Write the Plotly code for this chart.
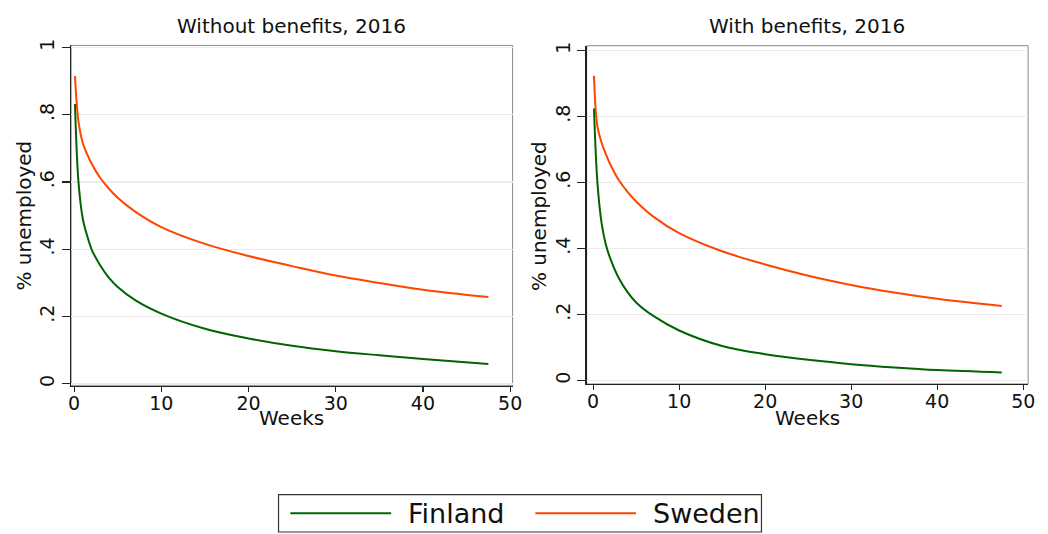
import plotly.graph_objects as go

# ---- data ----
weeks = [0.1, 0.5, 1, 1.5, 2, 3, 4, 5, 7, 10, 15, 20, 25, 30, 35, 40, 47.5]

fin_without = [0.832, 0.600, 0.490, 0.440, 0.400, 0.352, 0.315, 0.288, 0.249, 0.209, 0.164, 0.135, 0.113, 0.097, 0.085, 0.074, 0.059]
swe_without = [0.915, 0.780, 0.715, 0.682, 0.655, 0.612, 0.580, 0.553, 0.512, 0.466, 0.416, 0.380, 0.350, 0.322, 0.300, 0.280, 0.258]

fin_with = [0.825, 0.600, 0.475, 0.410, 0.370, 0.310, 0.268, 0.237, 0.196, 0.152, 0.105, 0.080, 0.063, 0.050, 0.040, 0.032, 0.025]
swe_with = [0.924, 0.770, 0.720, 0.685, 0.655, 0.607, 0.572, 0.543, 0.497, 0.447, 0.392, 0.352, 0.318, 0.290, 0.267, 0.248, 0.226]

panel_titles = ["Without benefits, 2016", "With benefits, 2016"]
series_names = ["Finland", "Sweden"]
x_ticks = [0, 10, 20, 30, 40, 50]
y_ticks = [0, 0.2, 0.4, 0.6, 0.8, 1]
y_ticktext = ["0", ".2", ".4", ".6", ".8", "1"]

GREEN = "rgb(0,100,0)"
ORANGE = "rgb(255,69,0)"
W, H = 1048, 534
FONT = "DejaVu Sans"

fig = go.Figure()

def px_x(v):
    return v / W

def px_y(v):
    return 1 - v / H

# panel geometry (pixels)
panels = [
    dict(x0=69, x1=516, y0=39, y1=384.5, xr=[-0.34, 50.28], yr=[-0.0056, 1.006],
         fin=fin_without, swe=swe_without, xa="x", ya="y"),
    dict(x0=591, x1=1038, y0=39.3, y1=382.7, xr=[-0.75, 50.57], yr=[-0.0101, 1.0149],
         fin=fin_with, swe=swe_with, xa="x2", ya="y2"),
]

for i, p in enumerate(panels):
    fig.add_trace(go.Scatter(x=weeks, y=p["fin"], mode="lines", name=series_names[0],
                             line=dict(color=GREEN, width=2, shape="spline", smoothing=1.0),
                             xaxis=p["xa"], yaxis=p["ya"], showlegend=False))
    fig.add_trace(go.Scatter(x=weeks, y=p["swe"], mode="lines", name=series_names[1],
                             line=dict(color=ORANGE, width=2, shape="spline", smoothing=1.0),
                             xaxis=p["xa"], yaxis=p["ya"], showlegend=False))

axis_common_x = dict(tickvals=x_ticks, ticks="outside", ticklen=5, tickwidth=1.2, tickcolor="#222",
                     ticklabelstandoff=-5,
                     showgrid=False, zeroline=False, showline=True, linecolor="#222", linewidth=1.2,
                     tickfont=dict(family=FONT, size=19, color="#111"))
axis_common_y = dict(tickvals=y_ticks, ticktext=y_ticktext, ticks="outside", ticklen=8, tickwidth=1.2,
                     tickcolor="#222", tickangle=-90, showgrid=True, gridcolor="#ececec", gridwidth=1.5,
                     zeroline=False, showline=True, linecolor="#222", linewidth=1.2,
                     tickfont=dict(family=FONT, size=19, color="#111"))

p0, p1 = panels
fig.update_layout(
    width=W, height=H,
    margin=dict(l=0, r=0, t=0, b=0),
    paper_bgcolor="white", plot_bgcolor="white",
    font=dict(family=FONT, color="#111"),
    xaxis=dict(domain=[px_x(p0["x0"]), px_x(p0["x1"])], range=p0["xr"], anchor="y", **axis_common_x),
    yaxis=dict(domain=[px_y(p0["y1"]), px_y(p0["y0"])], range=p0["yr"], anchor="x", **axis_common_y),
    xaxis2=dict(domain=[px_x(p1["x0"]), px_x(p1["x1"])], range=p1["xr"], anchor="y2", **axis_common_x),
    yaxis2=dict(domain=[px_y(p1["y1"]), px_y(p1["y0"])], range=p1["yr"], anchor="x2", **axis_common_y),
    showlegend=False,
)

shapes = []
annotations = []
for i, p in enumerate(panels):
    # light plot-region frame (top / right)
    shapes.append(dict(type="rect", xref="paper", yref="paper",
                       x0=px_x(p["x0"]), x1=px_x(p["x1"]), y0=px_y(p["y1"]), y1=px_y(p["y0"]),
                       line=dict(color="#8a8a8a", width=1), layer="below"))
    cx = (p["x0"] + p["x1"]) / 2
    annotations.append(dict(text=panel_titles[i], x=px_x(cx), y=px_y(19), xref="paper", yref="paper",
                            showarrow=False, xanchor="center", yanchor="middle",
                            font=dict(family=FONT, size=20, color="#111")))
    annotations.append(dict(text="Weeks", x=px_x(cx), y=px_y(417), xref="paper", yref="paper",
                            showarrow=False, xanchor="center", yanchor="middle",
                            font=dict(family=FONT, size=20, color="#111")))
    annotations.append(dict(text="% unemployed", x=px_x(p["x0"] - 48), y=px_y(212), xref="paper", yref="paper",
                            showarrow=False, xanchor="center", yanchor="middle", textangle=-90,
                            font=dict(family=FONT, size=20, color="#111")))

# legend box (drawn manually to match the long line samples)
shapes.append(dict(type="rect", xref="paper", yref="paper",
                   x0=px_x(279), x1=px_x(768), y0=px_y(533), y1=px_y(495),
                   line=dict(color="#333", width=1.2), fillcolor="white"))
shapes.append(dict(type="line", xref="paper", yref="paper", x0=px_x(291), x1=px_x(393),
                   y0=px_y(514), y1=px_y(514), line=dict(color=GREEN, width=2)))
shapes.append(dict(type="line", xref="paper", yref="paper", x0=px_x(539), x1=px_x(641),
                   y0=px_y(514), y1=px_y(514), line=dict(color=ORANGE, width=2)))
annotations.append(dict(text=series_names[0], x=px_x(408), y=px_y(514), xref="paper", yref="paper",
                        showarrow=False, xanchor="left", yanchor="middle",
                        font=dict(family=FONT, size=27, color="#111")))
annotations.append(dict(text=series_names[1], x=px_x(656), y=px_y(514), xref="paper", yref="paper",
                        showarrow=False, xanchor="left", yanchor="middle",
                        font=dict(family=FONT, size=27, color="#111")))

fig.update_layout(shapes=shapes, annotations=annotations)
fig.write_html("out.html",
               config=dict(displayModeBar=False, staticPlot=True),
               post_script="document.body.style.margin='0';document.body.style.padding='0';"
                           "document.documentElement.style.overflow='hidden';")
